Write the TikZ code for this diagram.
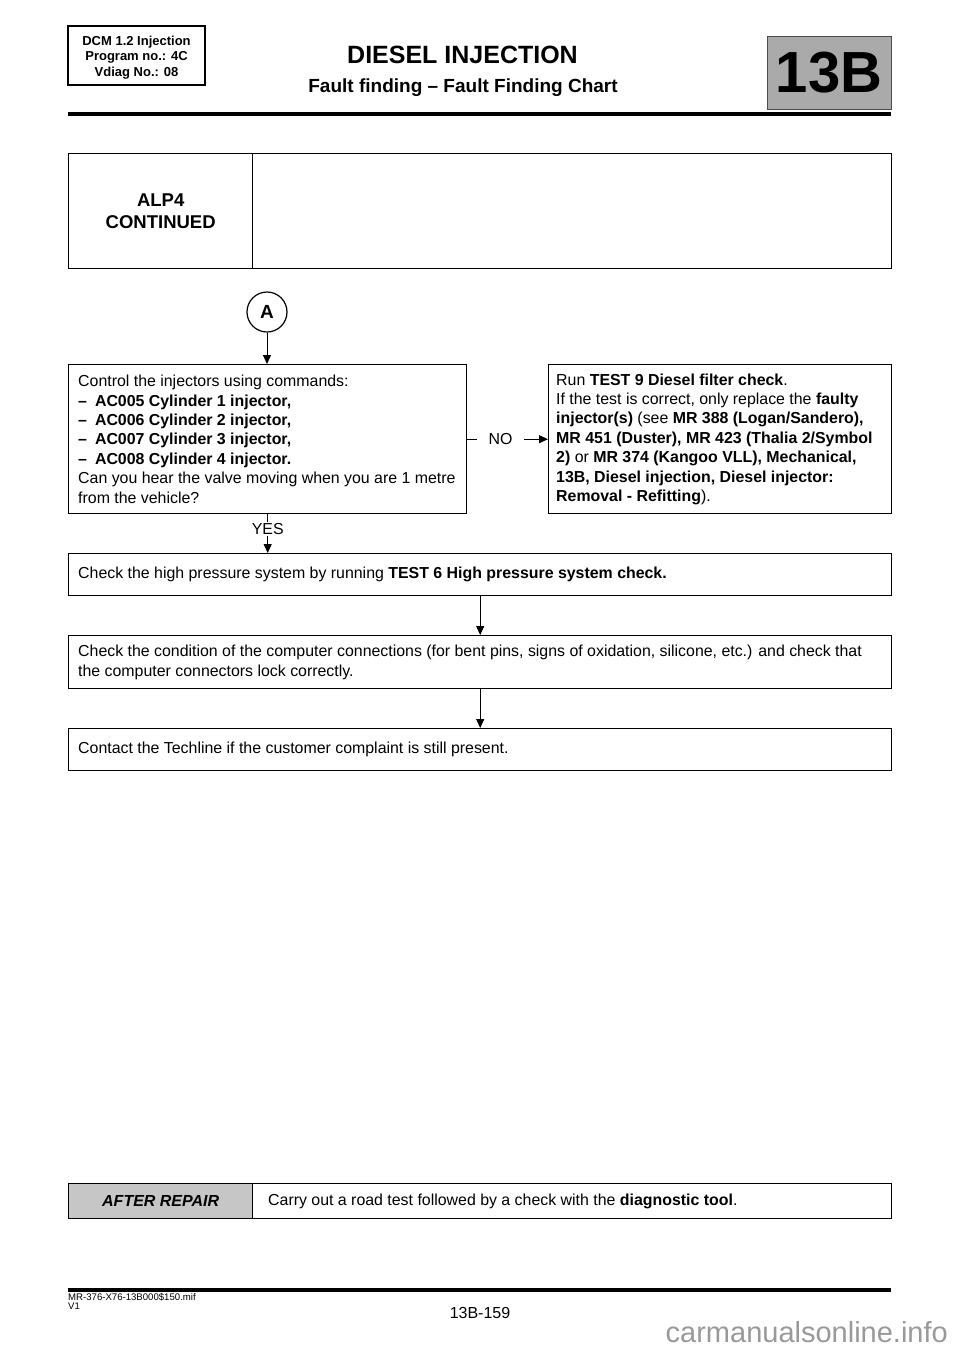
\documentclass[tikz,border=0pt]{standalone}
\usepackage{fontspec}
\setmainfont{Liberation Sans}
\usetikzlibrary{arrows.meta}
\begin{document}
\begin{tikzpicture}[x=1pt,y=-1pt,
  txt/.style={font=\fontsize{15.9}{19.4}\selectfont},
  cell/.style={draw=black, line width=1.4pt, rectangle, anchor=north west, inner sep=0pt},
  tx/.style={txt, align=left, anchor=west, inner sep=0pt},
  arr/.style={draw=black, line width=0.9pt, -{Triangle[length=9pt,width=8pt]}},
  lab/.style={fill=white, txt, inner ysep=1pt},
  rule/.style={line width=3.5pt, black},
]
\useasboundingbox (0,0) rectangle (960,1358);

% ---------- header ----------
\node[draw, line width=1.2pt, minimum width=137pt, minimum height=59pt, inner sep=0pt] (hdr) at (136.5,55.5) {};
\node[align=center, font=\bfseries\fontsize{13}{15.5}\selectfont, inner sep=0pt] (hdrt) at (136.5,57.5)
  {DCM 1.2 Injection\\Program no.: 4C\\Vdiag No.: 08};
\node[font=\bfseries\fontsize{25}{28}\selectfont, inner sep=0pt] (title) at (462.5,55) {DIESEL INJECTION};
\node[font=\bfseries\fontsize{19}{21}\selectfont, inner sep=0pt] (sub) at (463,88) {Fault finding -- Fault Finding Chart};
\node[draw=black!70, line width=1pt, fill=gray!67, minimum width=124pt, minimum height=73pt,
      font=\bfseries\fontsize{58}{58}\selectfont, inner sep=0pt] (sec) at (829,72.5) {13B};
\draw[rule] (68,114) -- (891,114);

% ---------- ALP4 table ----------
\node[cell, minimum width=184pt, minimum height=115pt, align=center,
      font=\bfseries\fontsize{18.5}{22}\selectfont] (alp) at (68,153) {ALP4\\CONTINUED};
\node[cell, minimum width=639pt, minimum height=115pt] (alpr) at (252,153) {};

% ---------- flowchart ----------
\node[draw, circle, line width=1.2pt, minimum size=40pt, inner sep=0pt,
      font=\bfseries\fontsize{19}{19}\selectfont] (A) at (267,312) {A};

\node[cell, minimum width=398pt, minimum height=149pt] (q1) at (68,364) {};
\node[tx, xshift=10pt] (q1t) at (q1.west)
  {Control the injectors using commands:\\
   \textbf{--\hspace{8pt}AC005 Cylinder 1 injector,}\\
   \textbf{--\hspace{8pt}AC006 Cylinder 2 injector,}\\
   \textbf{--\hspace{8pt}AC007 Cylinder 3 injector,}\\
   \textbf{--\hspace{8pt}AC008 Cylinder 4 injector.}\\
   Can you hear the valve moving when you are 1 metre\\
   from the vehicle?};

\node[cell, minimum width=343pt, minimum height=149pt] (r1) at (548,364) {};
\node[tx, xshift=8pt] (r1t) at (r1.west)
  {Run \textbf{TEST 9 Diesel filter check}.\\
   If the test is correct, only replace the \textbf{faulty}\\
   \textbf{injector(s)} (see \textbf{MR 388 (Logan/Sandero),}\\
   \textbf{MR 451 (Duster), MR 423 (Thalia 2/Symbol}\\
   \textbf{2)} or \textbf{MR 374 (Kangoo VLL), Mechanical,}\\
   \textbf{13B, Diesel injection, Diesel injector:}\\
   \textbf{Removal - Refitting}).};

\node[cell, minimum width=823pt, minimum height=42pt] (c1) at (68,553) {};
\node[tx, xshift=10pt] (c1t) at (c1.west)
  {Check the high pressure system by running \textbf{TEST 6 High pressure system check.}};

\node[cell, minimum width=823pt, minimum height=53pt] (c2) at (68,635) {};
\node[tx, xshift=10pt] (c2t) at (c2.west)
  {Check the condition of the computer connections (for bent pins, signs of oxidation, silicone, etc.) and check that\\
   the computer connectors lock correctly.};

\node[cell, minimum width=823pt, minimum height=42pt] (c3) at (68,728) {};
\node[tx, xshift=10pt] (c3t) at (c3.west)
  {Contact the Techline if the customer complaint is still present.};

\draw[arr] (A.south) -- (A.south |- q1.north);
\draw[arr] (q1.south) -- node[lab, pos=0.38, inner xsep=0pt] (yes) {YES} (q1.south |- c1.north);
\draw[arr] (q1.east) -- node[lab, pos=0.41, inner xsep=12pt] (no) {NO} (r1.west);
\draw[arr] (c1.south) -- (c2.north);
\draw[arr] (c2.south) -- (c3.north);

% ---------- after repair ----------
\node[cell, fill=gray!45, minimum width=184pt, minimum height=35pt,
      font=\bfseries\itshape\fontsize{16}{19}\selectfont] (ar) at (68,1183) {AFTER REPAIR};
\node[cell, minimum width=639pt, minimum height=35pt] (arc) at (252,1183) {};
\node[tx, xshift=16pt] (artxt) at (arc.west)
  {Carry out a road test followed by a check with the \textbf{diagnostic tool}.};

% ---------- footer ----------
\draw[rule] (68,1290) -- (891,1290);
\node[font=\fontsize{9.6}{11}\selectfont, anchor=west, inner sep=0pt] (mif) at (68,1297) {MR-376-X76-13B000\$150.mif};
\node[font=\fontsize{9.6}{11}\selectfont, anchor=west, inner sep=0pt] (v1) at (68,1306) {V1};
\node[font=\fontsize{16}{18}\selectfont, inner sep=0pt] (pg) at (480,1313) {13B-159};
\node[text=black!40, font=\fontsize{29}{31}\selectfont, anchor=east, inner sep=0pt] (wm) at (948,1332) {carmanualsonline.info};
\end{tikzpicture}
\end{document}
